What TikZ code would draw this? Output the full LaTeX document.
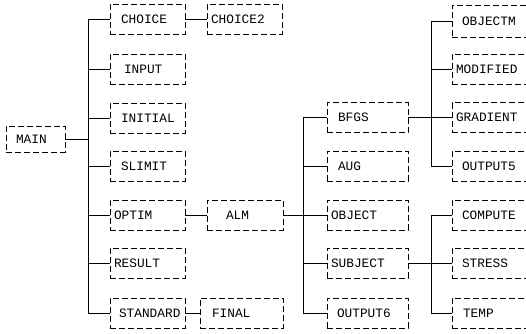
\documentclass[tikz,border=0pt]{standalone}
\usepackage{fontspec}
\setmonofont{Liberation Mono}
\newcommand\lblfont{\ttfamily\fontsize{12.8}{13}\selectfont}
\begin{document}
\begin{tikzpicture}[x=1pt,y=-1pt,
  box/.style={draw, line width=0.9pt, dash pattern=on 6pt off 3pt, minimum height=30pt,
    inner sep=0pt, align=left, font=\lblfont},
  conn/.style={draw, line width=0.9pt}]
\useasboundingbox (0,0) rectangle (526,333);
% column 1
\node[box, text width=59pt, minimum height=26pt] (main) at (35.5,139) {\hspace*{10pt}MAIN};
% column 2
\node[box, text width=75pt] (choice)   at (147.5,19)  {\hspace*{11pt}CHOICE};
\node[box, text width=75pt] (input)    at (147.5,69)  {\hspace*{14pt}INPUT};
\node[box, text width=75pt] (initial)  at (147.5,118) {\hspace*{11pt}INITIAL};
\node[box, text width=75pt] (slimit)   at (147.5,166) {\hspace*{11pt}SLIMIT};
\node[box, text width=75pt] (optim)    at (147.5,215) {\hspace*{4pt}OPTIM};
\node[box, text width=75pt] (result)   at (147.5,263) {\hspace*{4pt}RESULT};
\node[box, text width=75pt] (standard) at (147.5,313) {\hspace*{9pt}STANDARD};
% column 3
\node[box, text width=75pt] (choice2) at (244.5,19)  {\hspace*{4pt}CHOICE2};
\node[box, text width=76pt] (alm)     at (245,215)   {\hspace*{19pt}ALM};
\node[box, text width=83pt] (final)   at (241.5,313) {\hspace*{12pt}FINAL};
% column 4
\node[box, text width=81pt] (bfgs)    at (367.5,117.5) {\hspace*{11pt}BFGS};
\node[box, text width=81pt] (aug)     at (367.5,166) {\hspace*{11pt}AUG};
\node[box, text width=81pt] (object)  at (367.5,215) {\hspace*{4pt}OBJECT};
\node[box, text width=81pt] (subject) at (367.5,263) {\hspace*{4pt}SUBJECT};
\node[box, text width=81pt] (output6) at (367.5,313) {\hspace*{10pt}OUTPUT6};
% column 5
\node[box, text width=93pt, minimum height=32pt] (objectm) at (498.5,21) {\hspace*{10pt}OBJECTM};
\node[box, text width=93pt] (modified) at (498.5,69)  {\hspace*{4pt}MODIFIED};
\node[box, text width=93pt] (gradient) at (498.5,117.5) {\hspace*{4pt}GRADIENT};
\node[box, text width=93pt] (output5)  at (498.5,166) {\hspace*{10pt}OUTPUT5};
\node[box, text width=93pt] (compute)  at (498.5,215) {\hspace*{10pt}COMPUTE};
\node[box, text width=93pt] (stress)   at (498.5,263) {\hspace*{10pt}STRESS};
\node[box, text width=93pt] (temp)     at (498.5,313) {\hspace*{11pt}TEMP};
% bus coordinates
\coordinate (b1) at (88,0);
\coordinate (b2) at (303,0);
\coordinate (b3) at (431,0);
% bus 1
\draw[conn] (choice.west) -- (choice.west -| b1) |- (standard.west);
\draw[conn] (main.east) -- (main.east -| b1);
\foreach \n in {input,initial,slimit,optim,result}
  \draw[conn] (\n.west -| b1) -- (\n.west);
\draw[conn] (choice.east) -- (choice2.west);
\draw[conn] (optim.east) -- (alm.west);
\draw[conn] (standard.east) -- (final.west);
% bus 2
\draw[conn] (bfgs.west) -- (bfgs.west -| b2) |- (output6.west);
\foreach \n in {aug,object,subject}
  \draw[conn] (\n.west -| b2) -- (\n.west);
\draw[conn] (alm.east) -- (alm.east -| b2);
% bus 3
\draw[conn] (objectm.west) -- (objectm.west -| b3) |- (output5.west);
\draw[conn] (modified.west -| b3) -- (modified.west);
\draw[conn] (bfgs.east) -- (gradient.west);
% bus 4
\draw[conn] (compute.west) -- (compute.west -| b3) |- (temp.west);
\draw[conn] (subject.east) -- (stress.west);
\end{tikzpicture}
\end{document}
